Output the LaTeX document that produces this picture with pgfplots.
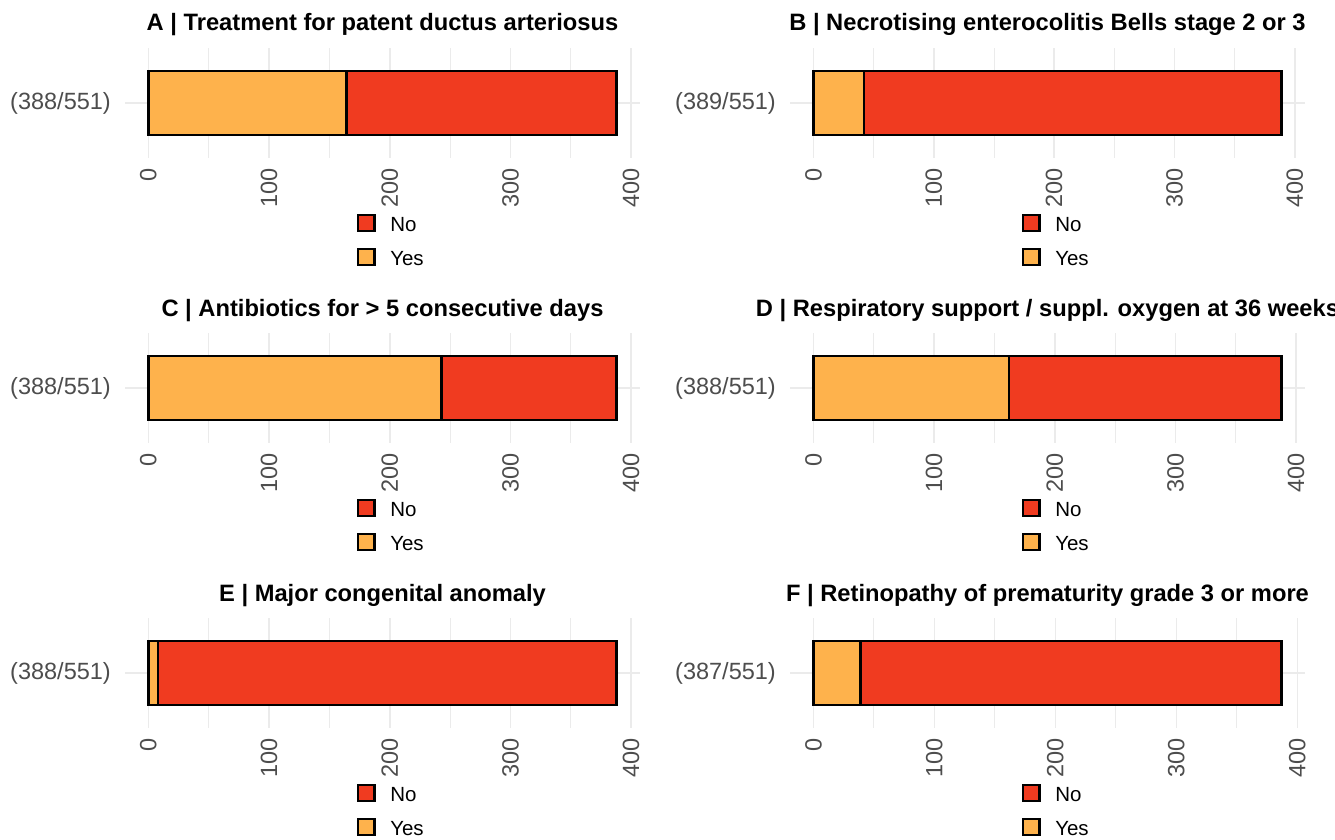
\documentclass[border=0pt]{standalone}
\usepackage{fontspec}
\setmainfont{Liberation Sans}
\usepackage{pgfplots}
\pgfplotsset{compat=1.18}
\definecolor{yescol}{HTML}{FEB24C}
\definecolor{nocol}{HTML}{F03B20}
\definecolor{gridcol}{HTML}{EBEBEB}
\definecolor{tickgray}{HTML}{4D4D4D}
\pgfplotsset{
  panel/.style={
    width=515pt, height=110pt, scale only axis, anchor=south west,
    xbar stacked, bar width=0.7,
    ymin=0.4, ymax=1.6, ytick={1},
    xtick={0,100,200,300,400}, minor xtick={50,150,250,350},
    xmajorgrids, xminorgrids, ymajorgrids,
    major grid style={draw=gridcol, line width=1.6pt},
    minor grid style={draw=gridcol, line width=0.9pt},
    axis line style={draw=none},
    major tick length=0pt, minor tick length=0pt,
    tick style={draw=none},
    /pgf/number format/assume math mode=true,
    xticklabel style={yshift=-10pt, rotate=90, anchor=east, inner sep=0pt,
      font=\fontsize{23.5}{27}\selectfont, text=tickgray},
    yticklabel style={anchor=east, inner sep=0pt, xshift=-14pt,
      font=\fontsize{23.5}{27}\selectfont, text=tickgray},
    title style={font=\bfseries\fontsize{23.7}{27}\selectfont, at={(0.5,1)},
      anchor=base, yshift=11pt, inner sep=0pt},
    legend style={draw=none, fill=none, at={(0.45,-0.505)}, anchor=north west,
      inner sep=0pt, font=\fontsize{20.5}{24}\selectfont, row sep=12.5pt,
      legend cell align=left},
    reverse legend,
    legend image code/.code={\draw[#1, line width=2.2pt] (0pt,-6pt) rectangle (16.5pt,10.5pt);
      \path (29pt,2pt);},
    every axis plot/.append style={draw=black, line width=2.4pt},
  }
}
\begin{document}
\begin{tikzpicture}
\useasboundingbox (0,0) rectangle (1335pt,839pt);
% Row 1
\begin{axis}[panel, at={(125pt,681pt)}, xmin=-19.4, xmax=407.4,
  yticklabels={(388/551)}, title={A | Treatment for patent ductus arteriosus}]
\addplot[fill=yescol] coordinates {(164,1)};
\addplot[fill=nocol] coordinates {(224,1)};
\legend{Yes,No}
\end{axis}
\begin{axis}[panel, at={(790pt,681pt)}, xmin=-19.45, xmax=408.45,
  yticklabels={(389/551)}, title={B | Necrotising enterocolitis Bells stage 2 or 3}]
\addplot[fill=yescol] coordinates {(42,1)};
\addplot[fill=nocol] coordinates {(347,1)};
\legend{Yes,No}
\end{axis}
% Row 2
\begin{axis}[panel, at={(125pt,396pt)}, xmin=-19.4, xmax=407.4,
  yticklabels={(388/551)}, title={C | Antibiotics for > 5 consecutive days}]
\addplot[fill=yescol] coordinates {(243,1)};
\addplot[fill=nocol] coordinates {(145,1)};
\legend{Yes,No}
\end{axis}
\begin{axis}[panel, at={(790pt,396pt)}, xmin=-19.4, xmax=407.4,
  yticklabels={(388/551)}, title={D | Respiratory support / suppl. oxygen at 36 weeks}]
\addplot[fill=yescol] coordinates {(162,1)};
\addplot[fill=nocol] coordinates {(226,1)};
\legend{Yes,No}
\end{axis}
% Row 3
\begin{axis}[panel, at={(125pt,111pt)}, xmin=-19.4, xmax=407.4,
  yticklabels={(388/551)}, title={E | Major congenital anomaly}]
\addplot[fill=yescol] coordinates {(8,1)};
\addplot[fill=nocol] coordinates {(380,1)};
\legend{Yes,No}
\end{axis}
\begin{axis}[panel, at={(790pt,111pt)}, xmin=-19.35, xmax=406.35,
  yticklabels={(387/551)}, title={F | Retinopathy of prematurity grade 3 or more}]
\addplot[fill=yescol] coordinates {(39,1)};
\addplot[fill=nocol] coordinates {(348,1)};
\legend{Yes,No}
\end{axis}
\end{tikzpicture}
\end{document}
